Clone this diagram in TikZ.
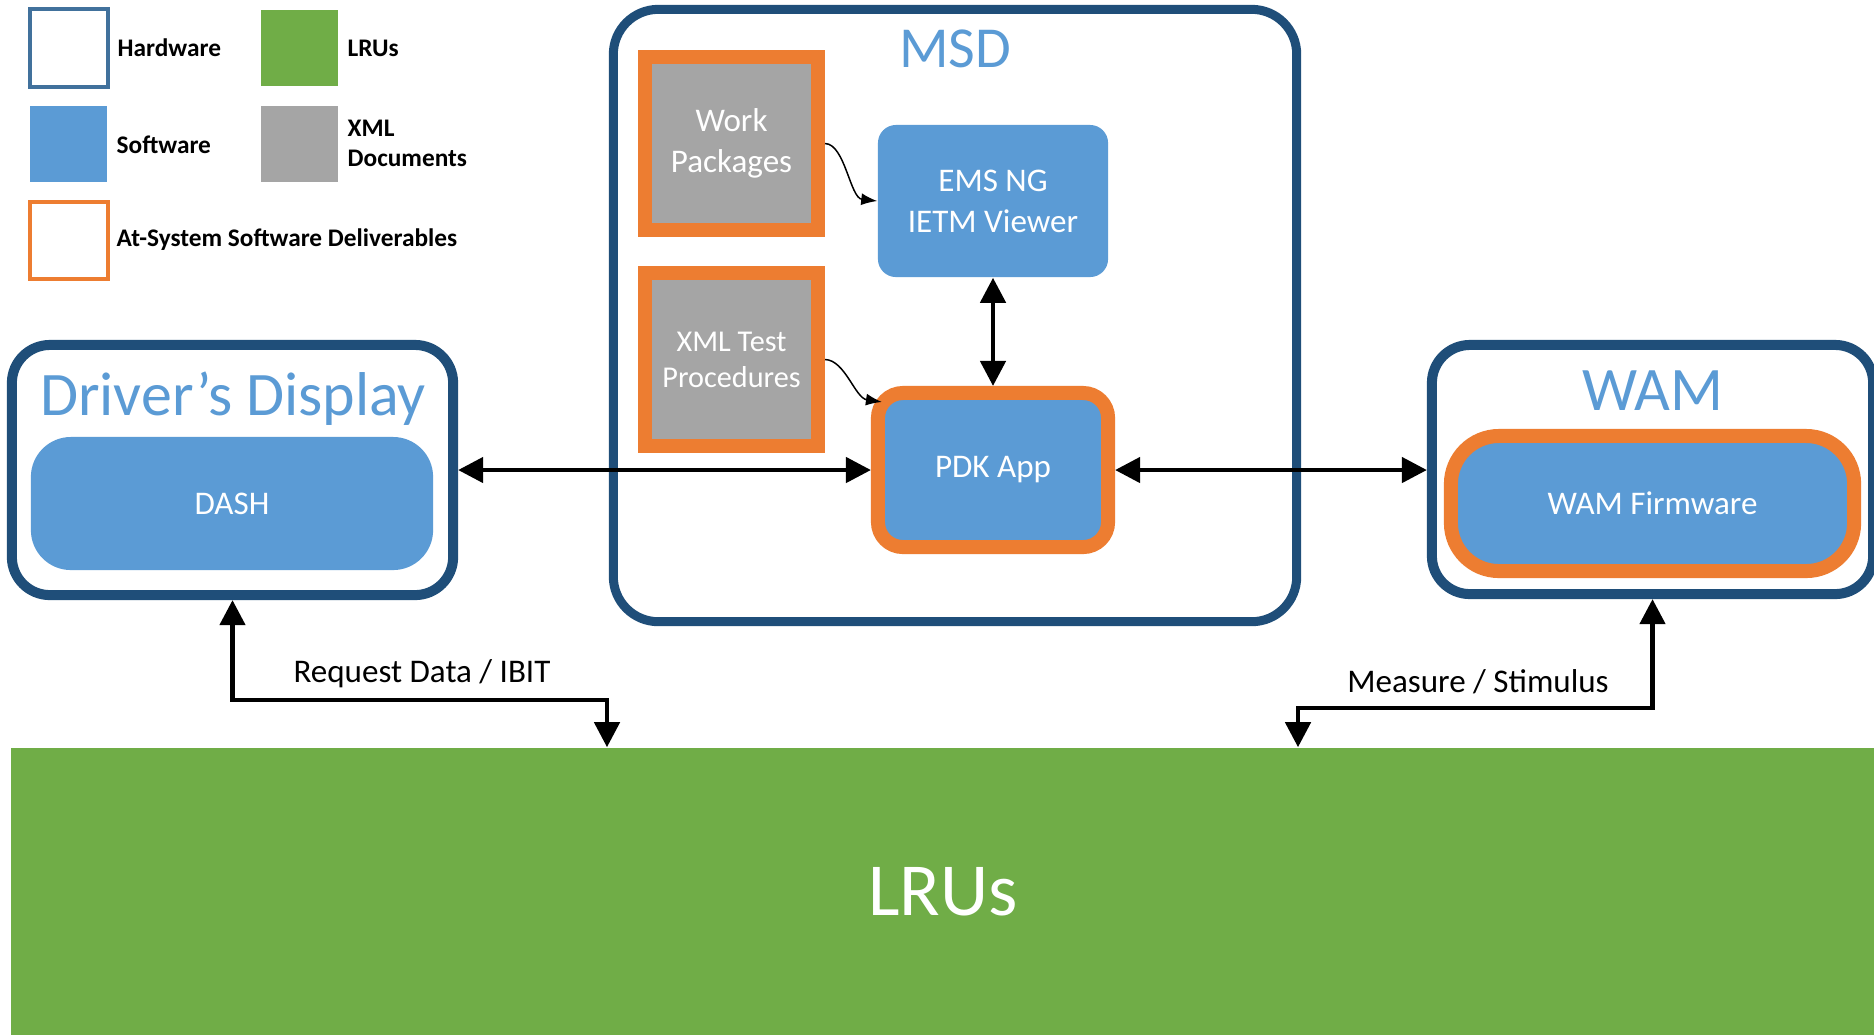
\documentclass[tikz,border=0pt]{standalone}
\usepackage{fontspec}
\setmainfont{Carlito}
\usetikzlibrary{arrows.meta,calc}

\definecolor{hwblue}{HTML}{1F4E79}
\definecolor{hwlegend}{HTML}{41719C}
\definecolor{swblue}{HTML}{5B9BD5}
\definecolor{delorange}{HTML}{ED7D31}
\definecolor{lrugreen}{HTML}{70AD47}
\definecolor{xmlgray}{HTML}{A5A5A5}

\tikzset{
  hwbox/.style={draw=hwblue, fill=white, line width=0.1cm, inner sep=0pt},
  swbox/.style={fill=swblue, text=white, inner sep=0pt, align=center,
    font=\fontsize{9.4}{11.7}\selectfont},
  delivsw/.style={swbox, draw=delorange, line width=0.14cm},
  xmldoc/.style={fill=xmlgray, draw=delorange, line width=0.14cm, text=white,
    inner sep=0pt, align=center, minimum width=1.73cm, minimum height=1.73cm},
  boxtitle/.style={text=swblue, anchor=base, inner sep=0pt},
  legendtext/.style={anchor=west, inner sep=0pt, align=left,
    font=\bfseries\fontsize{7.2}{7.5}\selectfont},
  linklabel/.style={anchor=base, inner sep=0pt, font=\fontsize{9.4}{11}\selectfont},
  biarrow/.style={line width=0.045cm, line join=miter,
    {Triangle[length=0.25cm,width=0.25cm]}-{Triangle[length=0.25cm,width=0.25cm]}},
  feed/.style={line width=0.015cm, -{Latex[length=0.16cm,width=0.12cm]}},
}

\begin{document}
\begin{tikzpicture}[x=0.01cm, y=-0.01cm]
\useasboundingbox (0,0) rectangle (1874,1035);

% legend
\node[draw=hwlegend, line width=0.04cm, minimum width=0.78cm, minimum height=0.78cm, inner sep=0pt] (lghw) at (69,48) {};
\node[legendtext] (lghwt) at (117,48) {Hardware};
\node[fill=lrugreen, minimum width=0.77cm, minimum height=0.76cm, inner sep=0pt] (lglru) at (299.5,48) {};
\node[legendtext] (lglrut) at (347,48) {LRUs};
\node[fill=swblue, minimum width=0.77cm, minimum height=0.76cm, inner sep=0pt] (lgsw) at (68.5,144) {};
\node[legendtext] (lgswt) at (116,145) {Software};
\node[fill=xmlgray, minimum width=0.77cm, minimum height=0.76cm, inner sep=0pt] (lgxml) at (299.5,144) {};
\node[legendtext, font=\bfseries\fontsize{7.2}{8.6}\selectfont] (lgxmlt) at (347,143) {XML\\Documents};
\node[draw=delorange, line width=0.04cm, minimum width=0.78cm, minimum height=0.77cm, inner sep=0pt] (lgdel) at (69,240.5) {};
\node[legendtext] (lgdelt) at (116,240) {At-System Software Deliverables};

% LRU band
\node[fill=lrugreen, text=white, inner sep=0pt, minimum width=18.62cm, minimum height=2.87cm,
  font=\fontsize{21.3}{24}\selectfont] (lru) at (943,891.5) {LRUs};

% MSD
\node[hwbox, line width=0.09cm, rounded corners=0.45cm, minimum width=6.83cm, minimum height=6.12cm] (msd) at (955,315.5) {};
\node[boxtitle, font=\fontsize{16.5}{18}\selectfont] (msdt) at (955,67) {MSD};
\node[xmldoc, font=\fontsize{9.4}{11.7}\selectfont] (wp) at (731.5,143.5) {Work\\Packages};
\node[xmldoc, font=\fontsize{8.6}{10.2}\selectfont] (xml) at (731.5,359.5) {XML Test\\Procedures};
\node[swbox, rounded corners=0.18cm, minimum width=2.30cm, minimum height=1.52cm] (ems) at (993,201) {EMS NG\\IETM Viewer};
\node[delivsw, rounded corners=0.25cm, minimum width=2.30cm, minimum height=1.54cm] (pdk) at (993,470) {PDK App};

% Driver's Display
\node[hwbox, rounded corners=0.38cm, minimum width=4.41cm, minimum height=2.50cm] (dd) at (232.5,470) {};
\node[boxtitle, font=\fontsize{17.6}{19}\selectfont] (ddt) at (233,415) {Driver’s Display};
\node[swbox, rounded corners=0.40cm, minimum width=4.02cm, minimum height=1.33cm] (dash) at (232,503.5) {DASH};

% WAM
\node[hwbox, rounded corners=0.38cm, minimum width=4.41cm, minimum height=2.49cm] (wam) at (1652.5,469.5) {};
\node[boxtitle, font=\fontsize{17.6}{19}\selectfont] (wamt) at (1653,410) {WAM};
\node[delivsw, rounded corners=0.48cm, minimum width=4.03cm, minimum height=1.35cm] (wamfw) at (1652.5,503.5) {WAM Firmware};

% document feeds
\draw[feed] (wp.east) .. controls (845,144) and (850,198) .. (ems.west);
\draw[feed] (xml.east) .. controls (845,360) and (855,398) .. ($(pdk.north west)+(11,16)$);

% data links
\draw[biarrow] (ems.south) -- (pdk.north);
\draw[biarrow] (dd.east) -- (pdk.west);
\draw[biarrow] (pdk.east) -- (pdk.east -| wam.west);

\coordinate (bendL) at (607,700);
\coordinate (lruL) at (lru.north -| bendL);
\draw[biarrow] (dd.south) |- (bendL) -- (lruL);
\node[linklabel] (rqlbl) at (422,682) {Request Data / IBIT};

\coordinate (bendR) at (1298,708);
\coordinate (lruR) at (lru.north -| bendR);
\draw[biarrow] (wam.south) |- (bendR) -- (lruR);
\node[linklabel] (mslbl) at (1478,692) {Measure / Stimulus};
\end{tikzpicture}
\end{document}
